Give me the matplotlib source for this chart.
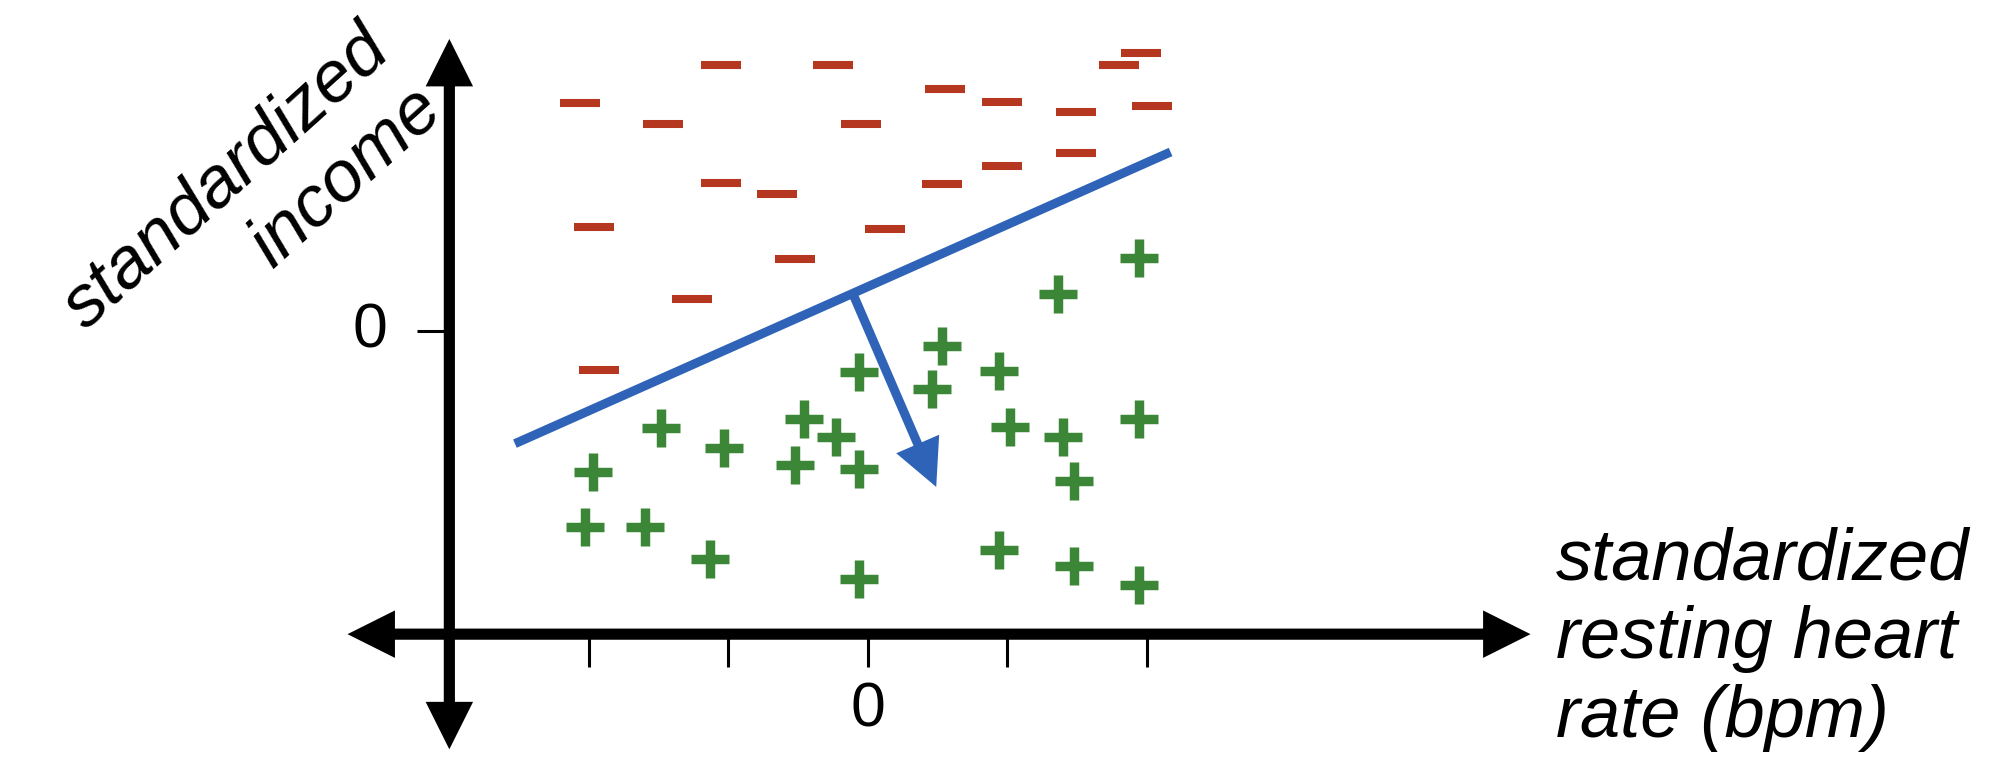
import matplotlib
matplotlib.use("Agg")
import matplotlib.pyplot as plt
import numpy as np

# Negative examples (red "-" marks)
neg_x = [-2.06, -1.05, -0.25, -1.47, -0.05, 0.55, 0.96, 1.49, 1.80, 1.96, 2.04,
         -1.05, -0.65, 0.53, 0.96, 1.49, -1.96, 0.12, -0.52, -1.26, -1.93]
neg_y = [1.63, 1.90, 1.90, 1.48, 1.48, 1.73, 1.64, 1.57, 1.90, 1.99, 1.61,
         1.06, 0.98, 1.05, 1.18, 1.27, 0.74, 0.73, 0.51, 0.23, -0.28]

# Positive examples (green "+" marks)
pos_x = [1.94, 1.36, 0.53, -0.06, 0.94, 0.46, -1.48, -1.03, -0.46, -0.23, 1.02, 1.40,
         1.94, -1.97, -0.52, -0.06, 1.48, -2.03, -1.60, -1.13, -0.06, 0.94, 1.48, 1.94]
pos_y = [0.52, 0.26, -0.11, -0.30, -0.29, -0.42, -0.70, -0.84, -0.63, -0.76, -0.69, -0.76,
         -0.63, -1.01, -0.96, -0.99, -1.08, -1.41, -1.41, -1.64, -1.78, -1.57, -1.69, -1.82]

# Decision boundary and normal vector
boundary_x = [-2.53, 2.17]
boundary_y = [-0.81, 1.28]
normal_start = (-0.11, 0.27)
normal_end = (0.49, -1.12)

x_ticks = [-2, -1, 0, 1, 2]
y_ticks = [0]

RED = "#B5371F"
GREEN = "#3C8737"
BLUE = "#2E63B8"

FONT = ["Liberation Sans", "DejaVu Sans"]


def axis_arrow(ax, x0, y0, x1, y1):
    ax.arrow(x0, y0, x1 - x0, y1 - y0, width=0.08, head_width=0.34,
             head_length=0.34, length_includes_head=True, color="black", lw=0)


def main():
    fig = plt.figure(figsize=(20.16, 7.68), dpi=100)
    ax = fig.add_axes([0, 0, 1, 1])
    ax.set_xlim(-6.221, 8.230)
    ax.set_ylim(-3.134, 2.369)
    ax.axis("off")

    # axes with arrow heads
    ox, oy = -3.0, -2.175
    axis_arrow(ax, ox, oy, -3.73, oy)
    axis_arrow(ax, ox, oy, 4.75, oy)
    axis_arrow(ax, ox, oy, ox, 2.09)
    axis_arrow(ax, ox, oy, ox, -3.0)

    # ticks
    for t in x_ticks:
        ax.plot([t, t], [oy, oy - 0.235], color="black", lw=2.2, solid_capstyle="butt")
    for t in y_ticks:
        ax.plot([ox, ox - 0.235], [t, t], color="black", lw=2.2, solid_capstyle="butt")

    ax.text(0, -2.72, "0", fontsize=45, family=FONT, ha="center", va="center")
    ax.text(-3.57, 0, "0", fontsize=45, family=FONT, ha="center", va="center")

    # data points
    ax.plot(neg_x, neg_y, ls="none", marker="_", ms=29.5, mew=5.8, color=RED)
    ax.plot(pos_x, pos_y, ls="none", marker="+", ms=28, mew=6.8, color=GREEN)

    # boundary and normal arrow
    ax.plot(boundary_x, boundary_y, color=BLUE, lw=6.5, solid_capstyle="butt")
    ax.arrow(normal_start[0], normal_start[1],
             normal_end[0] - normal_start[0], normal_end[1] - normal_start[1],
             width=0.065, head_width=0.335, head_length=0.335,
             length_includes_head=True, color=BLUE, lw=0)

    # labels
    ax.text(4.93, -2.21, "standardized\nresting heart\nrate (bpm)", fontsize=52,
            family=FONT, style="italic", ha="left", va="center", multialignment="left")
    ax.text(-4.41, 0.88, "standardized\nincome", fontsize=52, family=FONT,
            style="italic", rotation=42, rotation_mode="anchor",
            ha="center", va="center", multialignment="right")

    fig.savefig("out.png", dpi=100)


if __name__ == "__main__":
    main()
